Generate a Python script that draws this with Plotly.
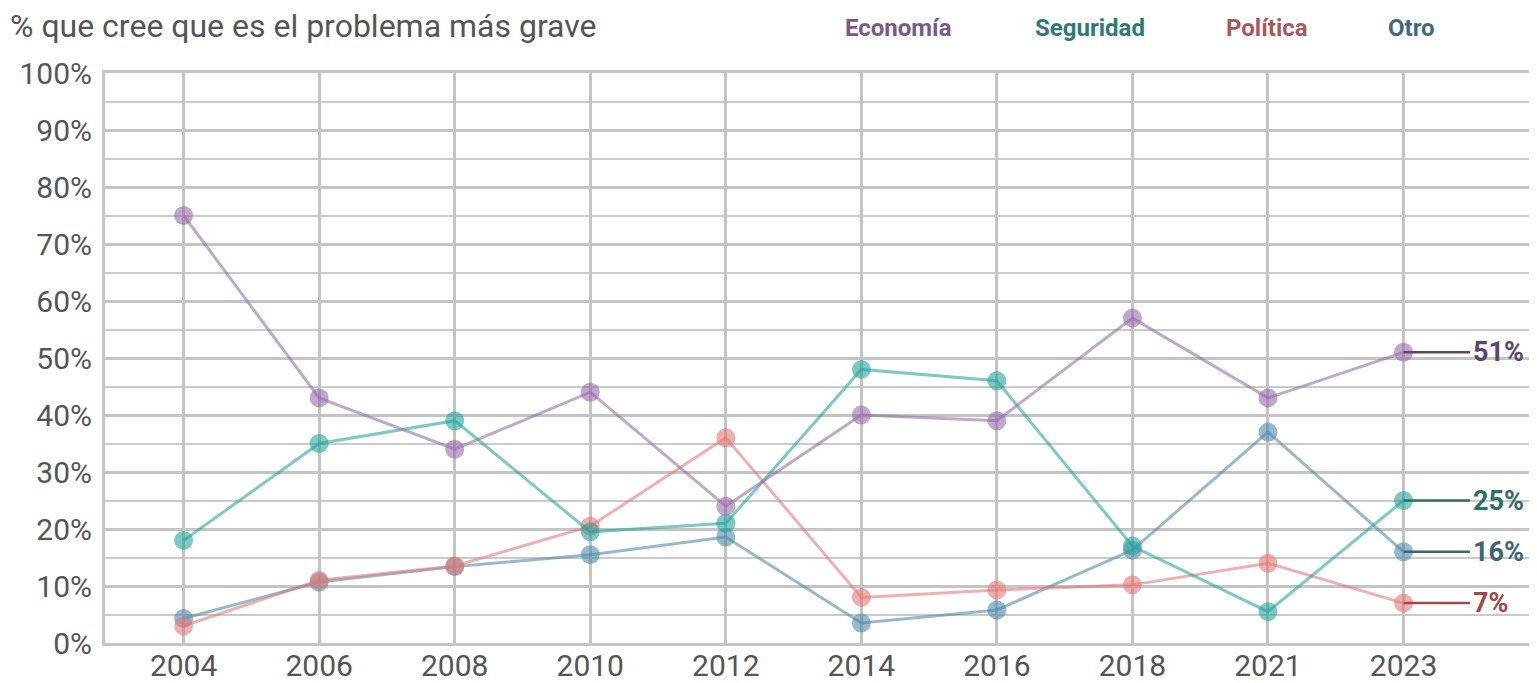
import plotly.graph_objects as go

years = ["2004", "2006", "2008", "2010", "2012", "2014", "2016", "2018", "2021", "2023"]
economia = [75, 43, 34, 44, 24, 40, 39, 57, 43, 51]
seguridad = [18, 35, 39, 19.5, 21, 48, 46, 17, 5.5, 25]
politica = [3, 11, 13.5, 20.5, 36, 8, 9.3, 10.2, 14, 7]
otro = [4.3, 10.7, 13.4, 15.5, 18.6, 3.5, 5.8, 16.3, 37, 16]
y_ticks = list(range(0, 101, 10))
y_ticklabels = [f"{v}%" for v in y_ticks]

series = [
    ("Economía", economia, "rgba(150,110,170,0.6)", "#5f4569", "#7a5a85"),
    ("Seguridad", seguridad, "rgba(40,165,155,0.6)", "#2d6e69", "#2f7a72"),
    ("Política", politica, "rgba(230,120,120,0.6)", "#a34848", "#a85a5a"),
    ("Otro", otro, "rgba(80,140,170,0.6)", "#3b6577", "#3f6a7c"),
]

# page-pixel helpers (plot area spans x 105..1535, y 73..643 on the page)
PL, PR, PT, PB = 105, 1535, 73, 643
def px_x(p):
    return (p - PL) / (PR - PL)
def px_y(p):
    return (PB - p) / (PB - PT)

xidx = list(range(len(years)))
fig = go.Figure()

for name, vals, col, dark, legcol in series[::-1]:
    fig.add_trace(go.Scatter(
        x=xidx, y=vals, mode="lines+markers", name=name,
        line=dict(color=col, width=3),
        marker=dict(size=19, color=col, line=dict(width=0)),
        showlegend=False, hoverinfo="skip",
    ))

last = len(years) - 1
for name, vals, col, dark, legcol in series:
    fig.add_shape(type="line", xref="x", yref="y", x0=last, x1=last + 0.49,
                  y0=vals[-1], y1=vals[-1], line=dict(color=dark, width=2.5), layer="above")
    fig.add_annotation(x=last + 0.5, y=vals[-1], xref="x", yref="y",
                       text=f"<b>{round(vals[-1])}%</b>", showarrow=False,
                       xanchor="left", yanchor="middle",
                       font=dict(family="Roboto", size=27, color=dark))

leg_px = [898, 1090, 1267, 1411]
for (name, vals, col, dark, legcol), lx in zip(series, leg_px):
    fig.add_annotation(x=px_x(lx), y=px_y(28), xref="paper", yref="paper",
                       text=f"<b>{name}</b>", showarrow=False,
                       xanchor="center", yanchor="middle",
                       font=dict(family="Roboto", size=24, color=legcol))

fig.add_annotation(x=px_x(8), y=px_y(26), xref="paper", yref="paper",
                   text="% que cree que es el problema más grave", showarrow=False,
                   xanchor="left", yanchor="middle",
                   font=dict(family="Roboto", size=32, color="#555555"))

fig.update_layout(
    width=1529, height=675,
    margin=dict(l=97, r=2, t=65, b=40),
    paper_bgcolor="white", plot_bgcolor="white",
    font=dict(family="Roboto", color="#555555"),
    xaxis=dict(
        range=[-0.58, 9.97], tickmode="array", tickvals=xidx, ticktext=years,
        showgrid=True, gridcolor="#c4c4c4", gridwidth=3,
        showline=True, linecolor="#c4c4c4", linewidth=3, mirror=True,
        zeroline=False, tickfont=dict(size=30, color="#555555"), ticks="",
        automargin=False, ticklabelstandoff=-6,
    ),
    yaxis=dict(
        range=[0, 100], tickmode="array", tickvals=y_ticks, ticktext=y_ticklabels,
        showgrid=True, gridcolor="#c4c4c4", gridwidth=3,
        minor=dict(dtick=5, showgrid=True, gridcolor="#cacaca", gridwidth=2),
        showline=True, linecolor="#c4c4c4", linewidth=3, mirror=True,
        zeroline=False, tickfont=dict(size=30, color="#555555"), ticks="",
        ticklabelstandoff=4, automargin=False,
    ),
)

fig.write_html("out.html")
